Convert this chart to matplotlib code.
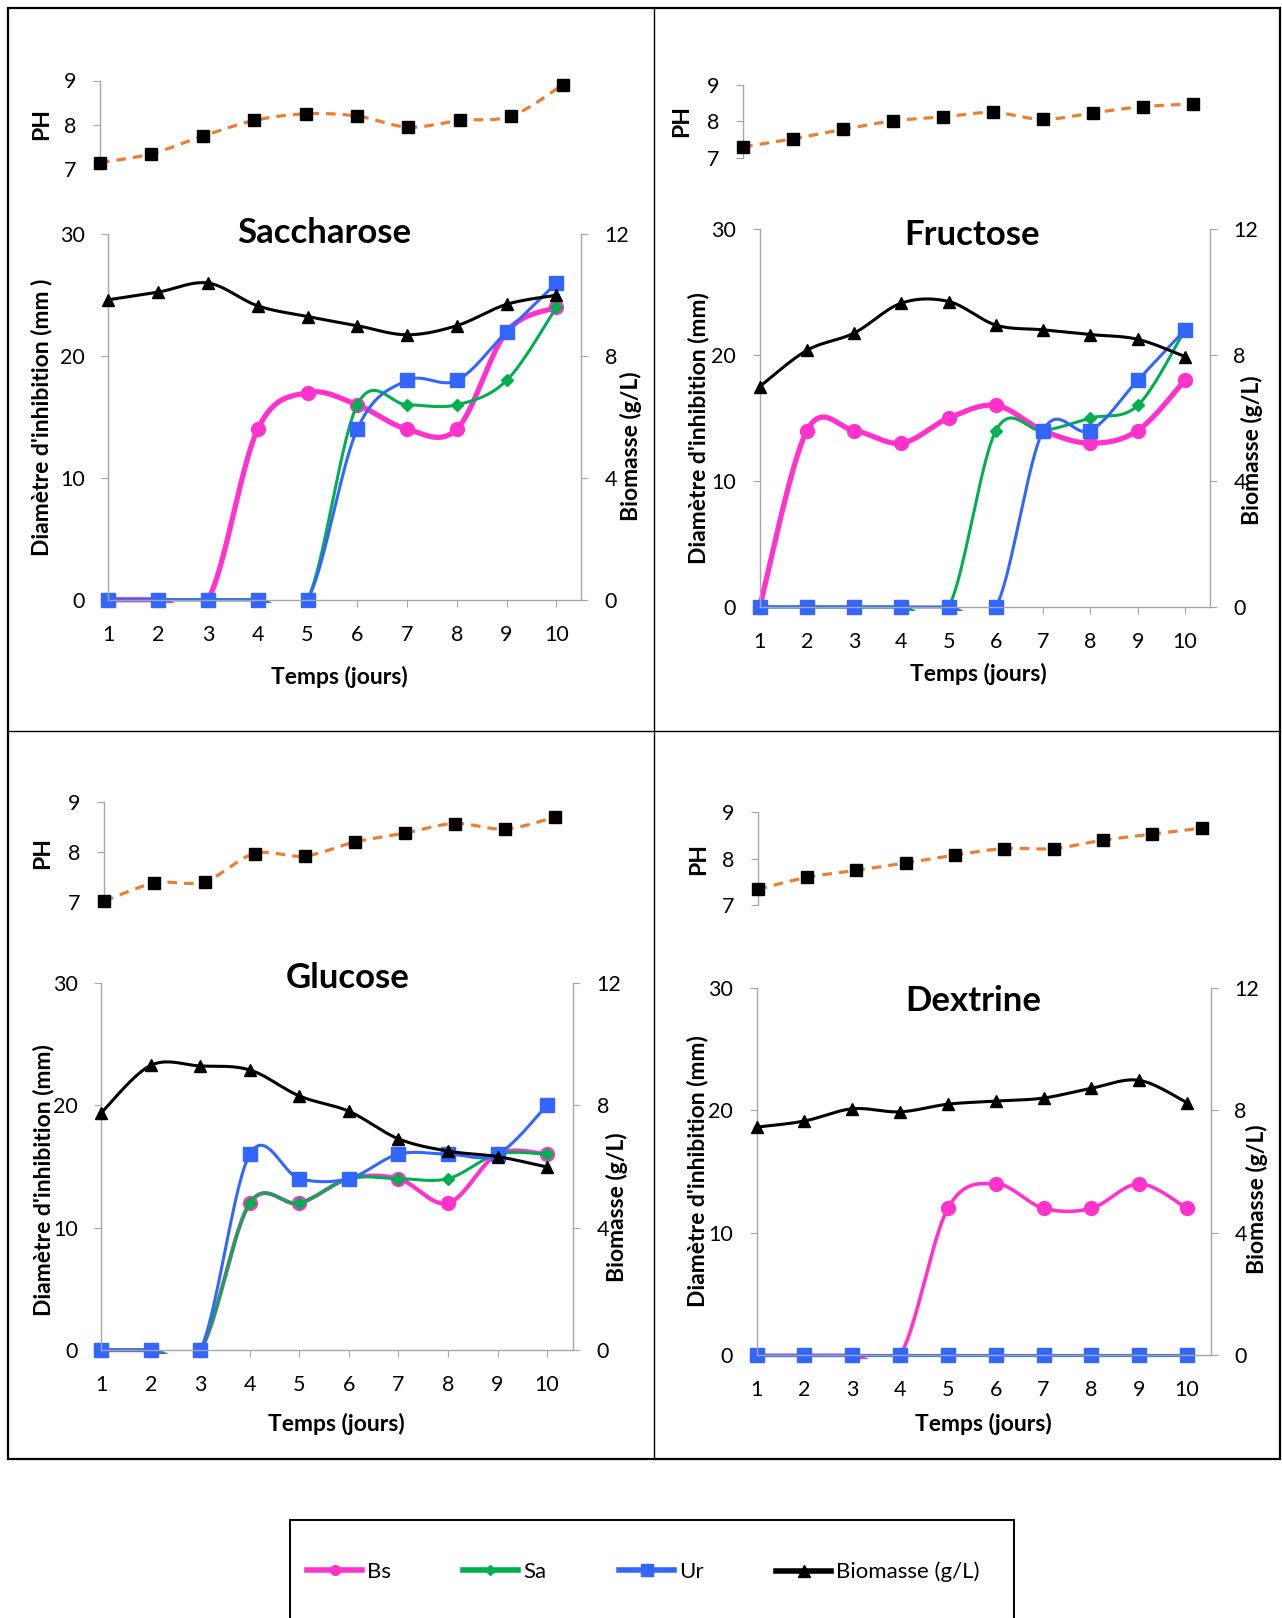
import numpy as np
import matplotlib
matplotlib.use("Agg")
import matplotlib.pyplot as plt
from matplotlib.lines import Line2D
from matplotlib.patches import Rectangle
from matplotlib.transforms import Bbox, TransformedBbox

plt.rcParams['font.family'] = ['Lato', 'DejaVu Sans']

# ---------------- data ----------------
days = [1, 2, 3, 4, 5, 6, 7, 8, 9, 10]
tick_labels = ['1', '2', '3', '4', '5', '6', '7', '8', '9', '10']
series_names = ['Bs', 'Sa', 'Ur', 'Biomasse (g/L)']

sac_ph = [7.15, 7.35, 7.75, 8.10, 8.25, 8.20, 7.95, 8.10, 8.20, 8.90]
sac_bs = [0, 0, 0, 14, 17, 16, 14, 14, 22, 24]
sac_sa = [0, 0, 0, 0, 0, 16, 16, 16, 18, 24]
sac_ur = [0, 0, 0, 0, 0, 14, 18, 18, 22, 26]
sac_bio = [9.85, 10.1, 10.4, 9.65, 9.3, 9.0, 8.7, 9.0, 9.7, 10.0]

fru_ph = [7.30, 7.52, 7.78, 8.01, 8.12, 8.24, 8.05, 8.23, 8.40, 8.47]
fru_bs = [0, 14, 14, 13, 15, 16, 14, 13, 14, 18]
fru_sa = [0, 0, 0, 0, 0, 14, 14, 15, 16, 22]
fru_ur = [0, 0, 0, 0, 0, 0, 14, 14, 18, 22]
fru_bio = [7.0, 8.15, 8.7, 9.65, 9.7, 8.95, 8.8, 8.65, 8.5, 7.95]

glu_ph = [7.02, 7.38, 7.41, 7.97, 7.92, 8.20, 8.38, 8.57, 8.46, 8.70]
glu_bs = [0, 0, 0, 12, 12, 14, 14, 12, 16, 16]
glu_sa = [0, 0, 0, 12, 12, 14, 14, 14, 16, 16]
glu_ur = [0, 0, 0, 16, 14, 14, 16, 16, 16, 20]
glu_bio = [7.75, 9.3, 9.28, 9.15, 8.3, 7.8, 6.9, 6.5, 6.32, 5.98]

dex_ph = [7.34, 7.60, 7.75, 7.91, 8.08, 8.22, 8.22, 8.40, 8.53, 8.66]
dex_bs = [0, 0, 0, 0, 12, 14, 12, 12, 14, 12]
dex_sa = [0, 0, 0, 0, 0, 0, 0, 0, 0, 0]
dex_ur = [0, 0, 0, 0, 0, 0, 0, 0, 0, 0]
dex_bio = [7.45, 7.65, 8.05, 7.95, 8.2, 8.3, 8.4, 8.72, 8.98, 8.25]

titles = ['Saccharose', 'Fructose', 'Glucose', 'Dextrine']
ylabels_left = ["Diamètre d'inhibition (mm )", "Diamètre d'inhibition (mm)",
                "Diamètre d'inhibition (mm)", "Diamètre d'inhibition (mm)"]

# ---------------- styles ----------------
PINK = '#FF33CC'
GREEN = '#00B050'
BLUE = '#3366FF'
ORANGE = '#ED7D31'
GRAY = '#A6A6A6'

W, H = 1282, 1618
fig = plt.figure(figsize=(W / 100, H / 100), dpi=100)


def fx(px):
    return px / W


def fy(py):
    return 1 - py / H


def add_box(x0, x1, ytop, ybot):
    return fig.add_axes([fx(x0), fy(ybot), (x1 - x0) / W, (ybot - ytop) / H])


def smooth(x, y, n=40):
    """Excel-like smoothed line (Catmull-Rom Bezier) through the data points."""
    pts = np.column_stack([x, y]).astype(float)
    P = np.vstack([pts[0], pts, pts[-1]])
    out = []
    t = np.linspace(0, 1, n)[:, None]
    for i in range(1, len(P) - 2):
        p0, p1, p2, p3 = P[i - 1], P[i], P[i + 1], P[i + 2]
        c1 = p1 + (p2 - p0) / 6
        c2 = p2 - (p3 - p1) / 6
        seg = (1 - t) ** 3 * p1 + 3 * (1 - t) ** 2 * t * c1 + 3 * (1 - t) * t ** 2 * c2 + t ** 3 * p2
        out.append(seg if i == 1 else seg[1:])
    s = np.vstack(out)
    return s[:, 0], s[:, 1]


# layout per panel (pixels in full image)
layouts = [
    dict(ph=(100.1, 562.6, 80.5, 169.3), main=(108.4, 581.1, 556.4, 234.3, 599.7),
         title=(324, 233), xlab=(339.6, 677), yl=(41.3, 417), yr=(630.7, 446), phl=(41.3, 124),
         bs_lw=3.8),
    dict(ph=(743.2, 1193.2, 84.6, 157.9), main=(759.7, 1209.7, 1185.0, 229.1, 606.9),
         title=(972.4, 235.4), xlab=(978.5, 674), yl=(698.5, 428), yr=(1252, 450), phl=(682, 121),
         bs_lw=3.8),
    dict(ph=(104.3, 555.3, 802.0, 902.1), main=(101.2, 572.9, 547.1, 982.7, 1350.1),
         title=(347.9, 977.5), xlab=(336.5, 1424.4), yl=(43.4, 1180), yr=(617, 1207), phl=(42.3, 853),
         bs_lw=3.0),
    dict(ph=(757.6, 1201.5, 812.3, 905.2), main=(756.6, 1210.8, 1187.0, 987.8, 1355.3),
         title=(973.4, 1001.3), xlab=(983.7, 1424.4), yl=(697.8, 1171), yr=(1257, 1199), phl=(698.8, 859),
         bs_lw=2.6),
]

data = [
    (sac_ph, sac_bs, sac_sa, sac_ur, sac_bio),
    (fru_ph, fru_bs, fru_sa, fru_ur, fru_bio),
    (glu_ph, glu_bs, glu_sa, glu_ur, glu_bio),
    (dex_ph, dex_bs, dex_sa, dex_ur, dex_bio),
]

TICK_FS = 15.5
LAB_FS = 16.5
TITLE_FS = 25

for k in range(4):
    lay = layouts[k]
    ph, bs, sa, ur, bio = data[k]

    # ---------- pH axes ----------
    x0, x1, yt, yb = lay['ph']
    axp = add_box(x0, x1, yt, yb)
    axp.set_xlim(1, 10)
    axp.set_ylim(7, 9)
    axp.patch.set_alpha(0)
    for sp in ['top', 'right', 'bottom']:
        axp.spines[sp].set_visible(False)
    axp.spines['left'].set_color(GRAY)
    axp.spines['left'].set_linewidth(1.0)
    axp.set_xticks([])
    axp.set_yticks([7, 8, 9])
    axp.tick_params(axis='y', direction='out', length=5, color=GRAY, labelsize=TICK_FS, pad=12)
    sx, sy = smooth(days, ph)
    axp.plot(sx, sy, color=ORANGE, lw=2.3, ls=(0, (3, 2.2)), clip_on=False)
    axp.plot(days, ph, ls='none', marker='s', ms=8.5, color='black', clip_on=False, zorder=4)
    axp.set_ylabel('PH', fontsize=LAB_FS, fontweight='bold', va='center')
    axp.yaxis.set_label_coords(fx(lay['phl'][0]), fy(lay['phl'][1]), transform=fig.transFigure)

    # ---------- main axes ----------
    mx0, mx1, d10, myt, myb = lay['main']
    xmax = 1 + 9 * (mx1 - mx0) / (d10 - mx0)
    ax = add_box(mx0, mx1, myt, myb)
    ax.set_xlim(1, xmax)
    ax.set_ylim(0, 30)
    ax.patch.set_alpha(0)
    ax.spines['top'].set_visible(False)
    ax.spines['right'].set_visible(False)
    for sp in ['left', 'bottom']:
        ax.spines[sp].set_color(GRAY)
        ax.spines[sp].set_linewidth(1.0)
    ax.set_yticks([0, 10, 20, 30])
    ax.set_xticks(days)
    ax.set_xticklabels(tick_labels)
    ax.tick_params(axis='y', direction='out', length=5, color=GRAY, labelsize=TICK_FS, pad=12)
    ax.tick_params(axis='x', direction='out', length=5, color=GRAY, labelsize=TICK_FS, pad=13)

    clipbb = TransformedBbox(Bbox([[0.5, -0.3], [xmax, 31]]), ax.transData)
    for vals, col, lw, mk, ms in [(bs, PINK, lay['bs_lw'], 'o', 10),
                                  (sa, GREEN, 2.2, 'D', 6),
                                  (ur, BLUE, 2.2, 's', 10)]:
        sx, sy = smooth(days, vals)
        ln, = ax.plot(sx, sy, color=col, lw=lw, solid_capstyle='round')
        ln.set_clip_path(None)
        ln.set_clip_box(clipbb)
        ln.set_clip_on(True)
        ax.plot(days, vals, ls='none', marker=mk, ms=ms, color=col, clip_on=False)

    ax.set_ylabel(ylabels_left[k], fontsize=LAB_FS, fontweight='bold', va='center')
    ax.yaxis.set_label_coords(fx(lay['yl'][0]), fy(lay['yl'][1]), transform=fig.transFigure)
    ax.set_xlabel('Temps (jours)', fontsize=LAB_FS, fontweight='bold', va='center')
    ax.xaxis.set_label_coords(fx(lay['xlab'][0]), fy(lay['xlab'][1]), transform=fig.transFigure)

    # ---------- biomass (right axis) ----------
    ax2 = ax.twinx()
    ax2.set_xlim(1, xmax)
    ax2.set_ylim(0, 12)
    for sp in ['top', 'left', 'bottom']:
        ax2.spines[sp].set_visible(False)
    ax2.spines['right'].set_color(GRAY)
    ax2.spines['right'].set_linewidth(1.0)
    ax2.set_yticks([0, 4, 8, 12])
    ax2.tick_params(axis='y', direction='out', length=5, color=GRAY, labelsize=TICK_FS, pad=12)
    sx, sy = smooth(days, bio)
    ax2.plot(sx, sy, color='black', lw=2.2, clip_on=False)
    ax2.plot(days, bio, ls='none', marker='^', ms=9, color='black', clip_on=False)
    ax2.set_ylabel('Biomasse (g/L)', fontsize=LAB_FS, fontweight='bold', va='center')
    ax2.yaxis.set_label_coords(fx(lay['yr'][0]), fy(lay['yr'][1]), transform=fig.transFigure)

    fig.text(fx(lay['title'][0]), fy(lay['title'][1]), titles[k], fontsize=TITLE_FS,
             fontweight='bold', ha='center', va='center')

# ---------------- frames ----------------
fig.add_artist(Rectangle((fx(8.3), fy(1458.5)), (1280 - 8.3) / W, (1458.5 - 8.3) / H,
                         transform=fig.transFigure, fill=False, edgecolor='black', lw=1.6))
fig.add_artist(Line2D([fx(654.4), fx(654.4)], [fy(8.3), fy(1458.5)], transform=fig.transFigure,
                      color='black', lw=1.0))
fig.add_artist(Line2D([fx(8.3), fx(1280)], [fy(730.8), fy(730.8)], transform=fig.transFigure,
                      color='black', lw=1.0))
fig.add_artist(Rectangle((fx(290), fy(1630)), (1014 - 290) / W, (1630 - 1519.5) / H,
                         transform=fig.transFigure, fill=False, edgecolor='black', lw=1.4))

# ---------------- legend ----------------
handles = [
    Line2D([], [], color=PINK, lw=4.0, marker='o', ms=7),
    Line2D([], [], color=GREEN, lw=4.0, marker='D', ms=5),
    Line2D([], [], color=BLUE, lw=4.0, marker='s', ms=8),
    Line2D([], [], color='black', lw=4.0, marker='^', ms=8),
]
legend_x = [307, 463, 619, 776]
LEG_FS = 16
for h, name, lx in zip(handles, series_names, legend_x):
    lg = fig.legend([h], [name], loc='center left', bbox_to_anchor=(fx(lx), fy(1572)),
                    frameon=False, fontsize=LEG_FS, handlelength=55 / (LEG_FS * 100 / 72),
                    handletextpad=0.22, borderpad=0, borderaxespad=0)

fig.savefig('out.png', dpi=100)
